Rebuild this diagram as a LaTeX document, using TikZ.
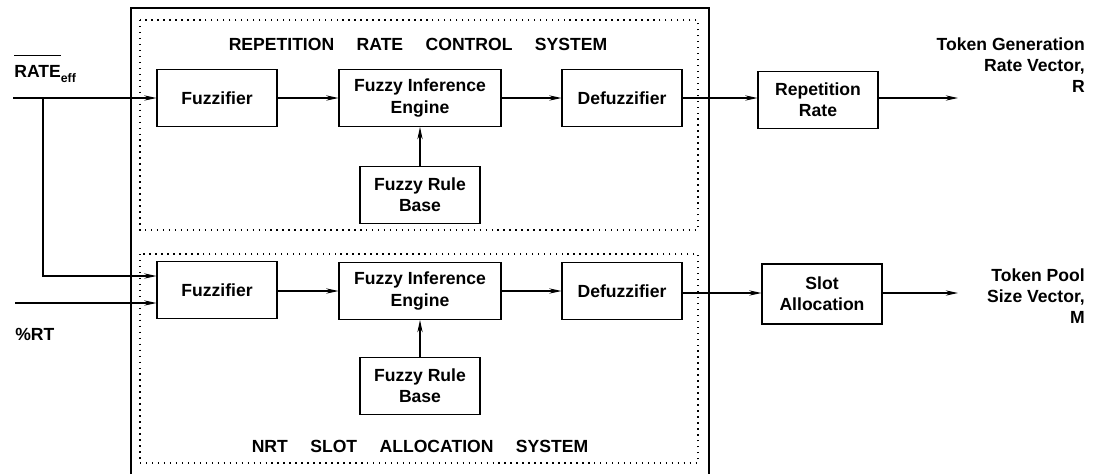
\documentclass[tikz,border=0pt]{standalone}
\usepackage{amsmath}
\usepackage{fontspec}
\setmainfont{Liberation Sans}
\usetikzlibrary{arrows.meta}

\begin{document}
\begin{tikzpicture}[x=0.02cm, y=-0.02cm,
  every node/.style={font=\bfseries},
  blk/.style={draw, semithick, minimum width=2.4cm, minimum height=1.14cm, align=center, inner sep=1pt},
  wideblk/.style={blk, minimum width=3.24cm},
  arr/.style={-{Stealth[length=7pt,width=3pt]}, semithick},
  sysbox/.style={draw, semithick, dash pattern=on 0.8pt off 2.6pt}]

\useasboundingbox (0,0) rectangle (1095,474);

% frame and the two systems
\draw[thick] (131,474) -- (131,8) -- (709,8) -- (709,474);
\draw[sysbox] (140,20) rectangle (698,230);
\draw[sysbox] (140,254) rectangle (698,463);

\node (ttl1) at (418,44) {REPETITION\hspace{1em} RATE\hspace{1em} CONTROL\hspace{1em} SYSTEM};
\node (ttl2) at (420,446) {NRT\hspace{1em} SLOT\hspace{1em} ALLOCATION\hspace{1em} SYSTEM};

% upper chain
\node[blk] (fuz1) at (217,98) {Fuzzifier};
\node[wideblk] (fie1) at (420,98) {Fuzzy Inference\\Engine};
\node[blk] (frb1) at (420,195) {Fuzzy Rule\\Base};
\node[blk] (dfz1) at (622,98) {Defuzzifier};
\node[blk] (rep) at (818,100) {Repetition\\Rate};
\node[anchor=east, align=right] (out1) at (1091,65) {Token Generation\\Rate Vector,\\R};

% lower chain
\node[blk] (fuz2) at (217,290) {Fuzzifier};
\node[wideblk] (fie2) at (420,291) {Fuzzy Inference\\Engine};
\node[blk] (frb2) at (420,386) {Fuzzy Rule\\Base};
\node[blk] (dfz2) at (622,291) {Defuzzifier};
\node[blk, minimum height=1.2cm] (slot) at (822,294) {Slot\\Allocation};
\node[anchor=east, align=right] (out2) at (1091,296) {Token Pool\\Size Vector,\\M};

% inputs
\node[anchor=base west, inner sep=0pt] (rate) at (14,77) {$\overline{\text{RATE}\rule{0pt}{11pt}}\lower3pt\hbox{\scriptsize eff}$};
\node[anchor=base west, inner sep=0pt] (rt) at (15,340) {\%RT};

\coordinate (in1) at (13,98);
\coordinate (split) at (43,98);
\coordinate (bend) at (43,276);
\coordinate (in2) at (15,303);
\coordinate (o1) at (958,98);
\coordinate (o2) at (958,293);

\draw[arr] (in1) -- (fuz1.west);
\draw[arr] (split) -- (bend) -- (bend -| fuz2.west);
\draw[arr] (in2) -- (in2 -| fuz2.west);

\draw[arr] (fuz1) -- (fie1);
\draw[arr] (fie1) -- (dfz1);
\draw[arr] (frb1) -- (fie1);
\draw[arr] (dfz1.east) -- (dfz1.east -| rep.west);
\draw[arr] (rep.east |- o1) -- (o1);

\draw[arr] (fuz2.east |- fie2) -- (fie2.west);
\draw[arr] (fie2) -- (dfz2);
\draw[arr] (frb2) -- (fie2);
\draw[arr] (dfz2.east |- o2) -- (o2 -| slot.west);
\draw[arr] (slot.east |- o2) -- (o2);

\end{tikzpicture}
\end{document}
